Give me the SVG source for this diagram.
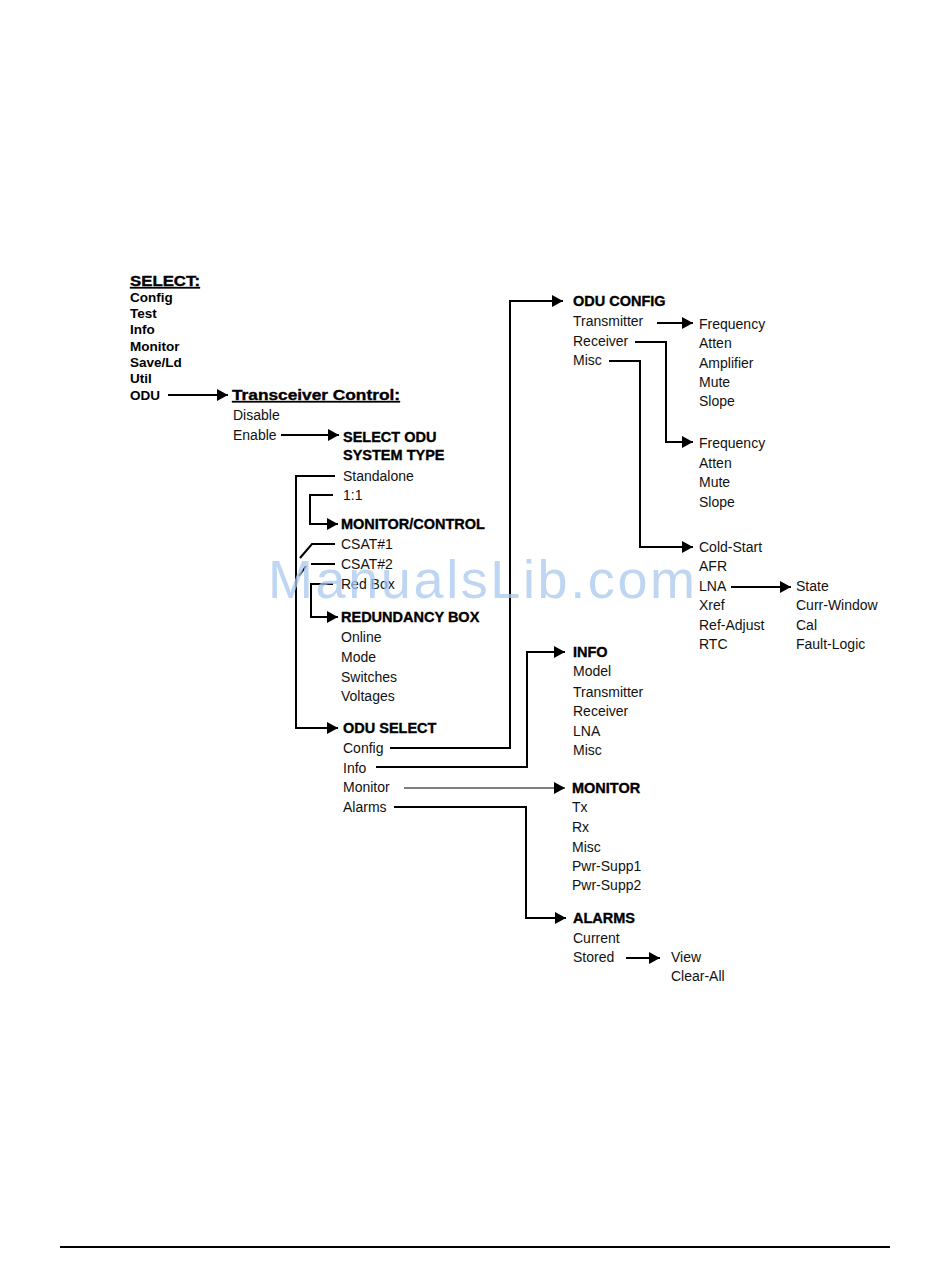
<svg xmlns="http://www.w3.org/2000/svg" width="950" height="1267" viewBox="0 0 950 1267">
<defs>
<marker id="ah" markerUnits="userSpaceOnUse" markerWidth="12" markerHeight="12" viewBox="0 0 12 12" refX="11" refY="6" orient="auto">
<path d="M0,0 L11,6 L0,12 Z" fill="#000"/>
</marker>
<style>
.t{font-family:"Liberation Sans",Arial,sans-serif;font-size:14px;fill:#111}
.b{font-family:"Liberation Sans",Arial,sans-serif;font-size:13.5px;font-weight:bold;fill:#000}
.h{font-family:"Liberation Sans",Arial,sans-serif;font-size:14.5px;font-weight:bold;fill:#000;stroke:#000;stroke-width:0.35}
.u{text-decoration:underline}
.c{fill:none;stroke:#000;stroke-width:2}
.g{fill:none;stroke:#555;stroke-width:1.5}
</style>
</defs>
<rect width="950" height="1267" fill="#fff"/>

<g id="select">
<text class="h u" x="130" y="286" font-size="15" textLength="70" lengthAdjust="spacingAndGlyphs">SELECT:</text>
<text class="b" x="130" y="302">Config</text>
<text class="b" x="130" y="318">Test</text>
<text class="b" x="130" y="334">Info</text>
<text class="b" x="130" y="351">Monitor</text>
<text class="b" x="130" y="367">Save/Ld</text>
<text class="b" x="130" y="383">Util</text>
<text class="b" x="130" y="400">ODU</text>
</g>

<g id="transceiver">
<text class="h u" x="232" y="400" font-size="15.5" textLength="168" lengthAdjust="spacingAndGlyphs">Transceiver Control:</text>
<text class="t" x="233" y="420">Disable</text>
<text class="t" x="233" y="440">Enable</text>
</g>

<g id="systemtype">
<text class="h" x="343" y="442">SELECT ODU</text>
<text class="h" x="343" y="460">SYSTEM TYPE</text>
<text class="t" x="343" y="481">Standalone</text>
<text class="t" x="343" y="500">1:1</text>
</g>

<g id="monitorcontrol">
<text class="h" x="341" y="529">MONITOR/CONTROL</text>
<text class="t" x="341" y="549">CSAT#1</text>
<text class="t" x="341" y="569">CSAT#2</text>
<text class="t" x="341" y="589">Red Box</text>
</g>

<g id="redundancy">
<text class="h" x="341" y="622">REDUNDANCY BOX</text>
<text class="t" x="341" y="642">Online</text>
<text class="t" x="341" y="662">Mode</text>
<text class="t" x="341" y="682">Switches</text>
<text class="t" x="341" y="701">Voltages</text>
</g>

<g id="oduselect">
<text class="h" x="343" y="733">ODU SELECT</text>
<text class="t" x="343" y="753">Config</text>
<text class="t" x="343" y="773">Info</text>
<text class="t" x="343" y="792">Monitor</text>
<text class="t" x="343" y="812">Alarms</text>
</g>

<g id="oduconfig">
<text class="h" x="573" y="306">ODU CONFIG</text>
<text class="t" x="573" y="326">Transmitter</text>
<text class="t" x="573" y="346">Receiver</text>
<text class="t" x="573" y="365">Misc</text>
</g>

<g id="txmenu">
<text class="t" x="699" y="329">Frequency</text>
<text class="t" x="699" y="348">Atten</text>
<text class="t" x="699" y="368">Amplifier</text>
<text class="t" x="699" y="387">Mute</text>
<text class="t" x="699" y="406">Slope</text>
</g>

<g id="rxmenu">
<text class="t" x="699" y="448">Frequency</text>
<text class="t" x="699" y="468">Atten</text>
<text class="t" x="699" y="487">Mute</text>
<text class="t" x="699" y="507">Slope</text>
</g>

<g id="miscmenu">
<text class="t" x="699" y="552">Cold-Start</text>
<text class="t" x="699" y="571">AFR</text>
<text class="t" x="699" y="591">LNA</text>
<text class="t" x="699" y="610">Xref</text>
<text class="t" x="699" y="630">Ref-Adjust</text>
<text class="t" x="699" y="649">RTC</text>
</g>

<g id="lnamenu">
<text class="t" x="796" y="591">State</text>
<text class="t" x="796" y="610">Curr-Window</text>
<text class="t" x="796" y="630">Cal</text>
<text class="t" x="796" y="649">Fault-Logic</text>
</g>

<g id="info">
<text class="h" x="573" y="657">INFO</text>
<text class="t" x="573" y="676">Model</text>
<text class="t" x="573" y="697">Transmitter</text>
<text class="t" x="573" y="716">Receiver</text>
<text class="t" x="573" y="736">LNA</text>
<text class="t" x="573" y="755">Misc</text>
</g>

<g id="monitor">
<text class="h" x="572" y="793">MONITOR</text>
<text class="t" x="572" y="812">Tx</text>
<text class="t" x="572" y="832">Rx</text>
<text class="t" x="572" y="852">Misc</text>
<text class="t" x="572" y="871">Pwr-Supp1</text>
<text class="t" x="572" y="890">Pwr-Supp2</text>
</g>

<g id="alarms">
<text class="h" x="573" y="923">ALARMS</text>
<text class="t" x="573" y="943">Current</text>
<text class="t" x="573" y="962">Stored</text>
</g>

<g id="storedmenu">
<text class="t" x="671" y="962">View</text>
<text class="t" x="671" y="981">Clear-All</text>
</g>

<g id="connectors">
<path class="c" d="M168,395 H228" marker-end="url(#ah)"/>
<path class="c" d="M281,435 H339" marker-end="url(#ah)"/>
<path class="c" d="M335,476 H296 V728 H338" marker-end="url(#ah)"/>
<path class="c" d="M333,495 H310 V524 H338" marker-end="url(#ah)"/>
<path class="c" d="M335,544 H312 L300,558" stroke-width="1.5"/>
<path class="c" d="M335,564 H311 M306,566 L299,576" stroke-width="1.5"/>
<path class="c" d="M333,584 H311 V617 H338" marker-end="url(#ah)"/>
<path class="c" d="M390,748 H510 V301 H563" marker-end="url(#ah)"/>
<path class="c" d="M376,767 H527 V652 H565" marker-end="url(#ah)"/>
<path class="g" d="M404,788 H565" marker-end="url(#ah)"/>
<path class="c" d="M394,807 H526 V918 H566" marker-end="url(#ah)"/>
<path class="c" d="M657,323 H693" marker-end="url(#ah)"/>
<path class="c" d="M635,342 H666 V442 H693" marker-end="url(#ah)"/>
<path class="c" d="M609,361 H640 V547 H693" marker-end="url(#ah)"/>
<path class="c" d="M731,587 H791" marker-end="url(#ah)"/>
<path class="c" d="M626,958 H660" marker-end="url(#ah)"/>
</g>

<line x1="60" y1="1247" x2="890" y2="1247" stroke="#000" stroke-width="2"/>

<text x="268" y="598" font-family="'Liberation Sans',Arial,sans-serif" font-size="54" textLength="427" fill="#a9c8ee" fill-opacity="0.75">ManualsLib.com</text>
</svg>
